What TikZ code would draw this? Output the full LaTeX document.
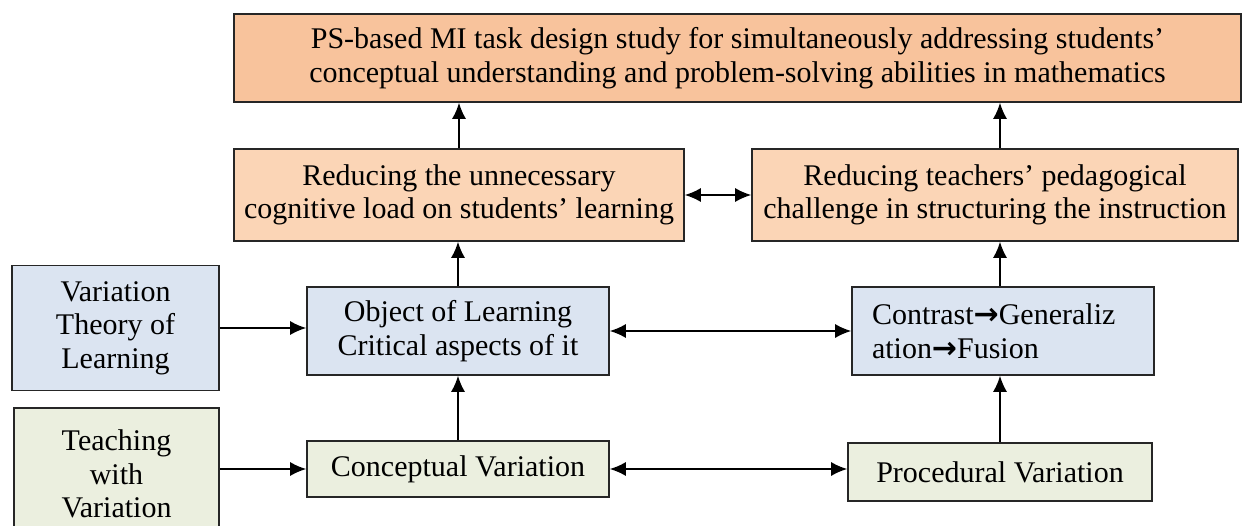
\documentclass[tikz,border=0pt]{standalone}
\usepackage{fontspec}
\setmainfont{Liberation Serif}
\newfontfamily\arrowfont{DejaVu Sans}
\usetikzlibrary{arrows.meta}
\definecolor{goalorange}{HTML}{F8C39C}
\definecolor{aimpeach}{HTML}{FBD5B6}
\definecolor{theoryblue}{HTML}{DBE4F1}
\definecolor{practicegreen}{HTML}{EBEFDF}
\newcommand{\thento}{{\arrowfont\bfseries →}}

\begin{document}
\begin{tikzpicture}[x=0.5pt,y=-0.5pt,
	box/.style={draw=black!85,line width=0.8pt,align=center,inner sep=0pt,font=\fontsize{15}{16.8}\selectfont},
	link/.style={line width=0.8pt,-{Latex[length=8pt,width=7pt]}},
	both/.style={line width=0.8pt,{Latex[length=8pt,width=7pt]}-{Latex[length=8pt,width=7pt]}}]
	\useasboundingbox (0,0) rectangle (1242,525);

	\node[box,fill=goalorange,minimum width=503.5pt,minimum height=44pt] (goal) at (737.5,58) {PS-based MI task design study for simultaneously addressing students’\\conceptual understanding and problem-solving abilities in mathematics};

	\node[box,fill=aimpeach,minimum width=225pt,minimum height=46pt] (cogload) at (459,195) {Reducing the unnecessary\\cognitive load on students’ learning};
	\node[box,fill=aimpeach,minimum width=243pt,minimum height=46pt] (challenge) at (995,195) {Reducing teachers’ pedagogical\\challenge in structuring the instruction};

	\node[box,fill=theoryblue,minimum width=103.5pt,minimum height=62.5pt] (theory) at (115.5,328) {Variation\\Theory of\\Learning};
	\node[box,fill=theoryblue,minimum width=151pt,minimum height=44pt] (object) at (458,331) {Object of Learning\\Critical aspects of it};
	\node[box,fill=theoryblue,align=left,text width=131pt,inner xsep=10pt,minimum height=44pt] (contrast) at (1003,331) {Contrast\thento Generaliz\\ation\thento Fusion};

	\node[box,fill=practicegreen,minimum width=102.5pt,minimum height=66pt] (teaching) at (116.5,474) {Teaching\\with\\Variation};
	\node[box,fill=practicegreen,minimum width=151pt,minimum height=28pt] (concept) at (458,469) {Conceptual Variation};
	\node[box,fill=practicegreen,minimum width=152pt,minimum height=29pt] (proced) at (1000,472) {Procedural Variation};

	\draw[link] (cogload.north) -- (cogload.north |- goal.south);
	\draw[link] (challenge.north -| proced.north) -- (proced.north |- goal.south);
	\draw[both] (cogload) -- (challenge);

	\draw[link] (object.north) -- (object.north |- cogload.south);
	\draw[link] (contrast.north -| proced.north) -- (proced.north |- challenge.south);
	\draw[link] (theory.east) -- (theory.east -| object.west);
	\draw[both] (object) -- (contrast);

	\draw[link] (concept) -- (object);
	\draw[link] (proced.north) -- (proced.north |- contrast.south);
	\draw[link] (teaching.east |- concept) -- (concept.west);
	\draw[both] (concept) -- (concept -| proced.west);

\end{tikzpicture}
\end{document}
